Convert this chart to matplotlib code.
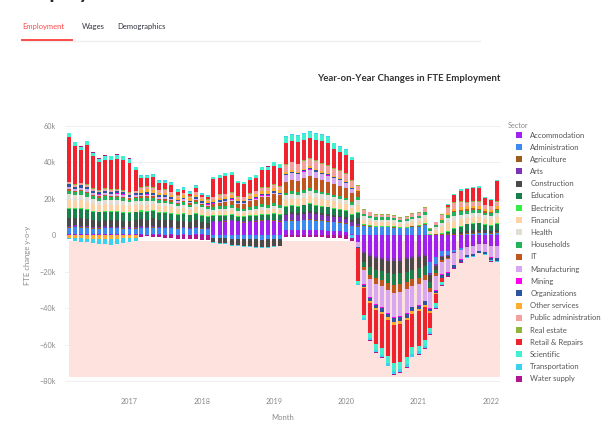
import numpy as np
import pandas as pd
import matplotlib
matplotlib.use("Agg")
import matplotlib.pyplot as plt
from matplotlib.patches import Patch
from matplotlib.lines import Line2D

plt.rcParams['font.family'] = ['Lato', 'DejaVu Sans']

# monthly year-on-year change in FTE, thousands, Mar 2016 .. Feb 2022
months = pd.date_range("2016-03-01", periods=72, freq="MS")

sectors = ["Accommodation", "Administration", "Agriculture", "Arts", "Construction",
           "Education", "Electricity", "Financial", "Health", "Households", "IT",
           "Manufacturing", "Mining", "Organizations", "Other services",
           "Public administration", "Real estate", "Retail & Repairs", "Scientific",
           "Transportation", "Water supply"]

colors = ["#a020f0", "#3d8bf2", "#9a5e1c", "#7d33b5", "#4a4a4a", "#1a7f4a", "#33ee44",
          "#ffd2a6", "#e2ded6", "#21b25a", "#c0561e", "#d7a8f0", "#ff00ee", "#2b55a0",
          "#ffab2e", "#f2a0a0", "#8fb53a", "#f0222e", "#40f0d0", "#3ad0ee", "#b0148f"]

accommodation = [0.5, 0.6, 0.4, 0.5, 0.3, 0.4, 0.5, 0.3, 0.4, 0.5, 0.4, 0.3,
                 0.3, 0.2, 0.4, 0.3, 0.2, 0.3, 0.2, 0.3, 0.2, 0.4, 0.3, 0.2,
                 7.0, 7.2, 7.4, 7.6, 7.0, 6.8, 7.2, 7.4, 7.7, 7.5, 7.8, 7.4,
                 2.5, 2.7, 2.6, 2.8, 2.9, 2.7, 2.6, 2.4, 2.2, 2.0, 1.6, 0.8,
                 -4, -9, -10.5, -11.5, -12, -12.5, -12.5, -12.5, -12, -11.5, -11, -10.5,
                 -15, -12, -9, -9, -8, -7, -6, -5.5, -4.5, -4.5, -5.5, -5.8]
administration = [3.5, 3.8, 3.6, 3.4, 3.2, 3.0, 3.1, 3.3, 3.2, 3.0, 2.9, 3.1,
                  3.6, 3.5, 3.7, 3.4, 3.5, 3.3, 3.2, 3.4, 3.1, 3.3, 3.0, 2.9,
                  -1.5, -1.8, -1.7, -2.0, -2.1, -2.3, -2.2, -2.4, -2.5, -2.3, -2.2, -2.0,
                  5.0, 5.2, 5.1, 5.3, 5.4, 5.2, 5.1, 5.0, 4.8, 4.7, 4.5, 4.2,
                  4.5, 5.0, 4.6, 4.2, 4.2, 4.2, 4.0, 3.6, 3.8, 4.3, 4.6, 5.4,
                  -6, -4, -2.5, -2, -1.5, -1, 0.5, 0.8, 1, 1, 0.8, 1]
agriculture = [0.3, 0.2, 0.3, 0.3, 0.2, 0.3, 0.3, 0.2, 0.3, 0.3, 0.2, 0.3,
               0.2, 0.3, 0.2, 0.2, 0.3, 0.2, 0.2, 0.3, 0.2, 0.2, 0.3, 0.2,
               0.3, 0.2, 0.3, 0.3, 0.2, 0.3, 0.2, 0.3, 0.3, 0.2, 0.3, 0.3,
               0.3, 0.3, 0.2, 0.3, 0.3, 0.2, 0.3, 0.3, 0.2, 0.3, 0.3, 0.2,
               0.3, 0.4, 0.4, 0.3, 0.3, 0.3, 0.3, 0.3, 0.3, 0.4, 0.4, 0.5,
               0.2, 0.3, 0.3, 0.4, 0.4, 0.4, 0.4, 0.4, 0.4, 0.3, 0.3, 0.4]
arts = [0.8, 0.9, 0.7, 0.8, 0.7, 0.6, 0.8, 0.7, 0.6, 0.7, 0.8, 0.7,
        0.6, 0.5, 0.7, 0.6, 0.5, 0.6, 0.5, 0.4, 0.5, 0.6, 0.5, 0.4,
        0.4, 0.5, 0.4, 0.3, 0.4, 0.5, 0.4, 0.3, 0.4, 0.5, 0.4, 0.4,
        3.0, 3.1, 3.2, 3.1, 3.3, 3.2, 3.0, 2.9, 2.8, 2.7, 2.6, 2.2,
        1.5, -1.0, -1.2, -1.3, -1.4, -1.5, -1.5, -1.5, -1.4, -1.3, -1.3, -1.2,
        -1, -0.8, -0.6, -0.5, -0.4, -0.3, -0.3, -0.3, -0.2, -0.2, -0.3, -0.3]
construction = [4.2, 4.0, 4.1, 3.8, 3.9, 3.6, 3.7, 3.5, 3.6, 3.4, 3.5, 3.6,
                4.0, 3.9, 4.1, 3.8, 3.7, 3.6, 3.4, 3.5, 3.3, 3.6, 3.2, 3.1,
                -2.5, -2.8, -2.9, -3.3, -3.4, -3.6, -3.8, -4.0, -4.2, -4.3, -4.0, -3.8,
                1.0, 1.1, 1.0, 1.2, 1.3, 1.1, 1.0, 1.2, 1.1, 1.0, 0.9, 0.8,
                3, -5, -6, -6.5, -6.5, -7, -7.5, -7, -7, -6.5, -6, -5.5,
                -4, -2.5, -1.5, -1, 0.5, 1, 1.5, 1.5, 1.5, 1.2, 1, 1.2]
education = [5.0, 4.8, 5.1, 4.9, 4.6, 4.5, 4.4, 4.6, 4.5, 4.3, 4.2, 4.4,
             4.2, 4.3, 4.1, 3.9, 4.0, 3.8, 3.6, 3.7, 3.5, 3.7, 3.4, 3.3,
             2.6, 2.7, 2.5, 2.6, 2.4, 2.3, 2.5, 2.6, 2.7, 2.6, 2.8, 2.7,
             3.5, 3.6, 3.4, 3.5, 3.7, 3.6, 3.5, 3.4, 3.3, 3.2, 3.1, 3.0,
             3, -2.5, -4, -4.5, -5, -5.5, -6, -6, -5.5, -5, -5, -4.5,
             -3, -1.5, 0.5, 1.5, 2.5, 3, 3.5, 3.5, 3.5, 3.2, 3, 3.5]
electricity = [0.5, 0.4, 0.5, 0.6, 0.4, 0.5, 0.4, 0.5, 0.4, 0.5, 0.4, 0.5,
               0.6, 0.5, 0.6, 0.5, 0.4, 0.5, 0.4, 0.5, 0.4, 0.5, 0.4, 0.4,
               0.5, 0.6, 0.5, 0.5, 0.4, 0.5, 0.5, 0.6, 0.5, 0.5, 0.6, 0.5,
               0.5, 0.4, 0.5, 0.5, 0.4, 0.5, 0.5, 0.4, 0.5, 0.4, 0.5, 0.4,
               0.4, 0.5, 0.4, 0.4, 0.4, 0.4, 0.4, 0.3, 0.3, 0.4, 0.4, 0.5,
               0.3, 0.4, 0.5, 0.5, 0.5, 0.5, 0.4, 0.4, 0.4, 0.4, 0.4, 0.4]
financial = [4.5, 4.2, 4.4, 4.0, 3.8, 3.5, 3.6, 3.4, 3.7, 3.5, 3.3, 3.4,
             3.2, 3.3, 3.1, 3.0, 3.1, 2.9, 2.7, 2.8, 2.6, 2.9, 2.5, 2.4,
             2.0, 2.1, 2.2, 2.2, 1.9, 1.8, 2.0, 2.1, 2.3, 2.4, 2.5, 2.4,
             3.5, 3.6, 3.7, 3.8, 3.9, 3.8, 3.7, 3.6, 3.5, 3.4, 3.3, 3.1,
             3.5, 2.5, 2.3, 2.1, 2.1, 2.1, 2.0, 1.8, 1.9, 2.2, 2.3, 2.8,
             1.2, 2.2, 3.2, 4.0, 4.0, 3.8, 3.2, 3.3, 3.2, 2.9, 3.1, 3.3]
health = [3.0, 2.8, 2.9, 2.7, 2.5, 2.4, 2.6, 2.5, 2.3, 2.4, 2.2, 2.3,
          2.0, 2.1, 2.0, 1.9, 1.8, 1.8, 1.6, 1.7, 1.5, 1.8, 1.5, 1.4,
          1.0, 1.1, 1.2, 1.2, 1.0, 0.9, 1.1, 1.2, 1.3, 1.3, 1.4, 1.3,
          2.5, 2.6, 2.5, 2.7, 2.8, 2.7, 2.6, 2.5, 2.4, 2.3, 2.2, 2.0,
          3.0, 1.8, 1.6, 1.4, 1.4, 1.4, 1.3, 1.2, 1.3, 1.5, 1.6, 2.0,
          0.6, 1.4, 2.2, 2.8, 2.8, 2.5, 2.1, 2.1, 2.0, 1.9, 2.0, 2.1]
households = [2.0, 1.8, 1.9, 2.0, 1.7, 1.6, 1.8, 1.7, 1.6, 1.7, 1.5, 1.6,
              1.5, 1.6, 1.4, 1.5, 1.4, 1.3, 1.2, 1.3, 1.2, 1.3, 1.1, 1.0,
              1.5, 1.4, 1.5, 1.6, 1.4, 1.3, 1.5, 1.4, 1.6, 1.5, 1.6, 1.5,
              1.5, 1.6, 1.5, 1.6, 1.7, 1.6, 1.5, 1.5, 1.4, 1.4, 1.3, 1.2,
              1.5, 1.5, 1.4, 1.3, 1.3, 1.3, 1.3, 1.2, 1.2, 1.3, 1.4, 1.6,
              0.8, 1.3, 1.6, 1.8, 1.9, 1.8, 1.6, 1.6, 1.5, 1.4, 1.5, 1.6]
it = [0.8, 0.9, 0.7, 0.8, 0.9, 0.8, 0.7, 0.8, 0.9, 0.8, 0.7, 0.8,
      1.0, 1.1, 1.0, 0.9, 1.0, 0.9, 0.8, 0.9, 0.8, 0.9, 0.8, 0.8,
      1.5, 1.8, 2.2, 2.6, 2.5, 2.8, 3.2, 3.5, 4.2, 4.5, 5.0, 5.2,
      6.0, 6.2, 6.1, 6.3, 6.5, 6.4, 6.2, 6.0, 5.8, 5.6, 5.4, 5.0,
      3.5, -1.5, -2.5, -3, -3.2, -3.5, -4, -4, -3.8, -3.5, -3.5, -3.2,
      -2, -1.5, -1, -0.5, 0.5, 0.8, 1, 1, 1, 0.8, 0.6, 1]
manufacturing = [1.2, 1.0, 1.1, 1.3, 1.0, 0.9, 1.1, 1.0, 1.2, 1.0, 0.9, 1.0,
                 0.8, 0.9, 0.8, 0.7, 0.8, 0.7, 0.6, 0.7, 0.6, 0.7, 0.6, 0.6,
                 0.4, 0.5, 0.4, 0.5, 0.4, 0.4, 0.5, 0.5, 0.6, 0.6, 0.7, 0.6,
                 3.5, 3.6, 3.4, 3.6, 3.7, 3.6, 3.4, 3.3, 3.1, 3.0, 2.8, 2.4,
                 -2.5, -8, -10, -11, -11.5, -12.5, -13.5, -13.5, -13, -11.5, -11.5, -11,
                 -9, -8, -7, -7.5, -6.5, -5, -4.6, -4.5, -3.8, -4.5, -6.4, -6.5]
mining = [0.2, 0.1, 0.2, 0.2, 0.1, 0.2, 0.2, 0.1, 0.2, 0.2, 0.1, 0.2,
          0.1, 0.2, 0.1, 0.1, 0.2, 0.1, 0.1, 0.1, 0.2, 0.1, 0.1, 0.1,
          0.1, 0.2, 0.1, 0.1, 0.2, 0.1, 0.1, 0.2, 0.1, 0.1, 0.2, 0.1,
          0.2, 0.2, 0.2, 0.2, 0.2, 0.2, 0.2, 0.2, 0.2, 0.2, 0.2, 0.2,
          -0.2, -0.3, -0.4, -0.4, -0.5, -0.5, -0.5, -0.5, -0.5, -0.4, -0.4, -0.4,
          -0.3, -0.2, -0.2, -0.2, -0.2, -0.2, -0.1, -0.1, -0.1, -0.1, -0.2, -0.2]
organizations = [1.2, 1.1, 1.3, 1.2, 1.0, 1.1, 1.2, 1.0, 1.1, 1.2, 1.0, 1.1,
                 1.0, 1.1, 1.0, 0.9, 1.0, 0.9, 0.8, 0.9, 0.8, 0.9, 0.8, 0.7,
                 0.8, 0.9, 0.8, 0.9, 0.8, 0.7, 0.8, 0.9, 1.0, 0.9, 1.0, 0.9,
                 0.5, 0.6, 0.5, 0.6, 0.5, 0.6, 0.5, 0.6, 0.5, 0.5, 0.5, 0.4,
                 -0.5, -1.0, -1.5, -1.8, -2.0, -2.0, -2.2, -2.2, -2.0, -2.0, -1.9, -1.8,
                 -1.5, -1.5, -1.5, -1.5, -1.2, -1.2, -1.1, -1.1, -1.0, -1.2, -1.5, -1.5]
other_services = [-1.5, -1.8, -1.6, -1.9, -2.0, -2.1, -1.9, -2.2, -2.0, -1.8, -1.7, -1.4,
                  1.5, 1.6, 1.4, 1.5, 1.4, 1.3, 1.2, 1.3, 1.2, 1.3, 1.1, 1.0,
                  1.2, 1.3, 1.4, 1.3, 1.1, 1.0, 1.2, 1.3, 1.4, 1.3, 1.4, 1.3,
                  0.8, 0.9, 0.8, 0.9, 1.0, 0.9, 0.8, 0.8, 0.7, 0.7, 0.6, 0.5,
                  0.5, -0.8, -1.0, -1.2, -1.3, -1.4, -1.5, -1.5, -1.4, -1.3, -1.2, -1.2,
                  -1, -0.5, 0.5, 1, 1.3, 1.5, 1.5, 1.5, 1.5, 1.2, 1.0, 1.3]
public_admin = [1.2, 1.0, 1.1, 0.9, 1.0, 0.8, 0.9, 1.0, 0.8, 0.9, 1.0, 0.8,
                1.4, 1.5, 1.3, 1.4, 1.3, 1.2, 1.1, 1.2, 1.0, 1.2, 1.0, 0.9,
                1.4, 1.5, 1.5, 1.6, 1.4, 1.3, 1.5, 1.6, 1.7, 1.8, 1.9, 1.8,
                4.0, 4.1, 4.0, 4.2, 4.3, 4.2, 4.1, 4.0, 3.8, 3.7, 3.6, 3.2,
                2.3, 1.8, 1.7, 1.4, 1.4, 1.4, 1.3, 1.2, 1.3, 1.4, 1.6, 1.9,
                0.4, 1.3, 2.0, 3.0, 3.0, 2.6, 2.1, 2.2, 2.1, 1.9, 2.1, 2.2]
real_estate = [0.4, 0.3, 0.4, 0.5, 0.3, 0.4, 0.3, 0.4, 0.5, 0.3, 0.4, 0.3,
               0.3, 0.4, 0.3, 0.3, 0.4, 0.3, 0.3, 0.3, 0.4, 0.3, 0.3, 0.3,
               0.3, 0.4, 0.3, 0.3, 0.4, 0.3, 0.3, 0.4, 0.3, 0.4, 0.3, 0.3,
               0.4, 0.4, 0.4, 0.4, 0.4, 0.4, 0.4, 0.4, 0.4, 0.4, 0.4, 0.4,
               0.4, 0.5, 0.4, 0.4, 0.4, 0.4, 0.4, 0.4, 0.4, 0.4, 0.5, 0.5,
               0.2, 0.4, 0.5, 0.5, 0.5, 0.5, 0.4, 0.4, 0.4, 0.3, 0.3, 0.4]
retail = [24.4, 20.7, 17.8, 21.3, 17.5, 15.2, 15.7, 16.0, 16.6, 16.4, 16.2, 11.0,
          4.9, 4.2, 5.5, 3.6, 3.3, 3.8, 1.8, 1.5, 1.2, 2.2, 0.8, 1.1,
          9.5, 9.0, 9.6, 9.3, 6.8, 6.8, 7.4, 7.0, 9.4, 9.6, 10.0, 10.3,
          12.0, 11.3, 12.1, 11.1, 10.8, 11.2, 12.2, 12.1, 10.6, 10.1, 10.3, 11.0,
          -18, -14.7, -16.8, -18.6, -18.6, -20, -21.2, -20.7, -20.4, -18.5, -18.8, -18.4,
          -8, -5, -2.5, 1, 4, 6, 7, 7, 7.5, 4, 3, 11]
scientific = [2.0, 2.2, 2.0, 2.3, 2.1, 2.0, 2.2, 2.1, 2.0, 2.2, 2.0, 1.8,
              1.0, 1.1, 1.0, 0.9, 1.0, 0.9, 0.8, 0.9, 0.8, 0.9, 0.8, 0.7,
              1.3, 1.4, 1.5, 1.5, 1.3, 1.2, 1.4, 1.5, 1.7, 1.8, 1.9, 1.8,
              3.0, 3.2, 3.1, 3.3, 3.4, 3.3, 3.2, 3.1, 2.9, 2.8, 2.6, 2.0,
              -1.5, -1.5, -2.5, -3, -3.5, -3.5, -4, -3.8, -3.8, -3.5, -3.2, -3,
              -2.5, -1.5, -0.8, 0.3, 0.6, 0.8, 0.8, 0.8, 0.8, 0.5, 0.4, 0.6]
transportation = [-0.7, -1.2, -2.4, -2.1, -2.5, -2.9, -3.1, -3.3, -3.0, -2.7, -2.3, -1.6,
                  0.8, 0.7, 0.8, 0.6, 0.7, 0.6, 0.5, 0.6, 0.5, 0.6, 0.5, 0.5,
                  -0.4, -0.4, -0.4, -0.7, -0.5, -0.6, -0.5, -0.6, -0.3, -0.4, -0.3, -0.2,
                  0.5, 0.6, 0.5, 0.6, 0.5, 0.6, 0.5, 0.5, 0.4, 0.4, 0.3, -1.5,
                  -0.5, -1.0, -1.2, -1.4, -1.5, -1.6, -1.8, -1.8, -1.7, -1.6, -1.5, -1.4,
                  -1.2, -1, -0.8, -0.5, -0.4, -0.3, -0.3, -0.3, -0.2, -0.3, -0.4, -0.4]
water_supply = [0.3, 0.2, 0.3, 0.2, 0.3, 0.2, 0.3, 0.2, 0.3, 0.2, 0.3, 0.2,
                -1.0, -0.8, -0.9, -1.2, -1.5, -1.6, -2.0, -2.1, -2.4, -2.0, -2.5, -2.6,
                0.2, 0.2, 0.2, 0.2, 0.2, 0.2, 0.2, 0.2, 0.2, 0.2, 0.2, 0.2,
                -1.0, -1.0, -1.0, -1.0, -1.0, -1.0, -1.0, -1.5, -1.5, -1.5, -2.0, -1.5,
                -0.3, -0.3, -0.4, -0.4, -0.5, -0.5, -0.5, -0.5, -0.5, -0.4, -0.4, -0.4,
                -0.5, -0.4, -0.3, -0.3, -0.3, -0.3, -0.3, -0.2, -0.2, -0.2, -0.3, -0.3]

series = [accommodation, administration, agriculture, arts, construction, education,
          electricity, financial, health, households, it, manufacturing, mining,
          organizations, other_services, public_admin, real_estate, retail, scientific,
          transportation, water_supply]

yticks = [-80, -60, -40, -20, 0, 20, 40, 60]
ytick_labels = ["\u221280k", "\u221260k", "\u221240k", "\u221220k", "0", "20k", "40k", "60k"]
years = ["2017", "2018", "2019", "2020", "2021", "2022"]

fig = plt.figure(figsize=(6.01, 4.23), dpi=100)
ax = fig.add_axes([0.1088, 0.082, 0.724, 0.6298])

# shaded band behind the bars
ax.fill_between([months[0], months[-1] + pd.Timedelta(days=15)], -78, -3.5,
                color="#fde2dd", linewidth=0, zorder=1)

pos = np.zeros(len(months))
neg = np.zeros(len(months))
for name, col, vals in zip(sectors, colors, series):
    v = np.array(vals, dtype=float)
    bottom = np.where(v >= 0, pos, neg)
    ax.bar(months, v, width=20, bottom=bottom, color=col, linewidth=0, zorder=3)
    pos += np.where(v >= 0, v, 0)
    neg += np.where(v < 0, v, 0)

ax.set_xlim(pd.Timestamp("2016-02-12"), pd.Timestamp("2022-02-19"))
ax.set_ylim(-84, 62)
ax.set_yticks(yticks)
ax.set_yticklabels(ytick_labels)
ax.set_xticks([pd.Timestamp(y + "-01-01") for y in years])
ax.set_xticklabels(years)
ax.yaxis.grid(True, color="#ececec", linewidth=0.6, zorder=0)
ax.set_axisbelow(True)
for s in ax.spines.values():
    s.set_visible(False)
ax.tick_params(axis="both", length=0, labelsize=5.2, labelcolor="#8a8a8a")
ax.tick_params(axis="y", pad=7)
ax.tick_params(axis="x", pad=7)

ax.set_ylabel("FTE change y-o-y", fontsize=5.5, color="#8a8a8a")
ax.yaxis.set_label_coords(-0.078, 0.5)
ax.set_xlabel("Month", fontsize=5.5, color="#8a8a8a")
ax.xaxis.set_label_coords(0.5, -0.098)

fig.text(409 / 601, 1 - 78 / 423, "Year-on-Year Changes in FTE Employment",
         ha="center", va="center", fontsize=6.9, fontweight="bold", color="#333333")

# page header (cut by the top edge) and tabs
fig.text(20 / 601, 1 + 1.5 / 423, "Employment Dashboard", ha="left", va="baseline",
         fontsize=15, fontweight="bold", color="#262730")
fig.text(22 / 601, 1 - 27 / 423, "Employment", ha="left", va="center",
         fontsize=5.5, color="#ff4b4b")
fig.text(82 / 601, 1 - 27 / 423, "Wages", ha="left", va="center",
         fontsize=5.5, color="#31333f")
fig.text(117 / 601, 1 - 27 / 423, "Demographics", ha="left", va="center",
         fontsize=5.5, color="#31333f")
fig.add_artist(Line2D([22 / 601, 480 / 601], [1 - 41 / 423] * 2, color="#eeeeee", lw=1))
fig.add_artist(Line2D([22 / 601, 72 / 601], [1 - 40.5 / 423] * 2, color="#ff4b4b", lw=1.4))

fig.text(508 / 601, 1 - 126 / 423, "Sector", ha="left", va="center",
         fontsize=5.2, color="#8a8a8a")
handles = [Patch(facecolor=c, edgecolor="none") for c in colors]
leg = fig.legend(handles, sectors, loc="upper left",
                 bbox_to_anchor=(516 / 601, 1 - 131.5 / 423), frameon=False,
                 fontsize=5.5, handlelength=0.85, handleheight=0.85, labelspacing=0.68,
                 handletextpad=1.0, borderaxespad=0, borderpad=0, labelcolor="#555555")

fig.savefig("out.png", dpi=100)
